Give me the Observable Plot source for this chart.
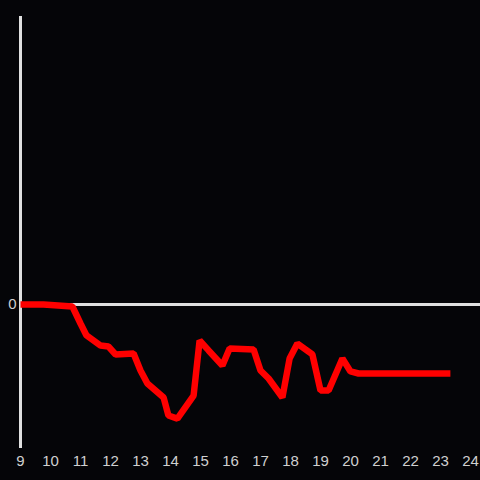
<!DOCTYPE html>
<html><head><meta charset="utf-8">
<script src="https://cdn.jsdelivr.net/npm/d3@7"></script>
<script src="https://cdn.jsdelivr.net/npm/@observablehq/plot@0.6"></script>
<style>
html,body{margin:0;padding:0;background:#050508;}
</style></head>
<body><div id="chart"></div>
<script>
const hours = [9.0, 9.77, 10.73, 11.0, 11.2, 11.67, 11.93, 12.17, 12.77, 13.0, 13.23, 13.77, 13.93, 14.23, 14.77, 14.97, 15.27, 15.73, 15.97, 16.77, 17.0, 17.27, 17.73, 17.97, 18.23, 18.73, 19.0, 19.27, 19.73, 20.0, 20.27, 23.33];
const values = [0, 0, -0.14, -1.32, -2.15, -2.85, -2.92, -3.47, -3.40, -4.58, -5.49, -6.46, -7.71, -7.92, -6.32, -2.5, -3.19, -4.24, -3.06, -3.13, -4.58, -5.14, -6.46, -3.75, -2.71, -3.47, -5.97, -5.97, -3.75, -4.65, -4.79, -4.79];
const xTicks = [9,10,11,12,13,14,15,16,17,18,19,20,21,22,23,24];
const yTicks = [0];
const data = hours.map((h,i)=>({h, v: values[i]}));
const chart = Plot.plot({
  width: 480, height: 480,
  marginLeft: 20, marginRight: 10, marginTop: 16, marginBottom: 32,
  style: {background: "#050508", color: "#d0d0d0", fontFamily: "Liberation Sans, Arial, sans-serif", fontSize: "15px"},
  x: {domain: [9, 24], label: null},
  y: {domain: [-10, 20], label: null},
  marks: [
    Plot.axisX(xTicks, {tickSize: 0, tickPadding: 7, fontSize: 15, fill: "#d0d0d0", label: null}),
    Plot.axisY(yTicks, {tickSize: 0, tickPadding: 4, fontSize: 15, fill: "#d0d0d0", label: null}),
    Plot.ruleX([9], {stroke: "#e0e0e0", strokeWidth: 3}),
    Plot.ruleY([0], {stroke: "#e0e0e0", strokeWidth: 3, insetRight: -10}),
    Plot.line(data, {x: "h", y: "v", stroke: "#ff0000", strokeWidth: 6.5, strokeLinejoin: "miter", strokeLinecap: "butt"})
  ]
});
document.getElementById("chart").append(chart);
</script></body></html>
